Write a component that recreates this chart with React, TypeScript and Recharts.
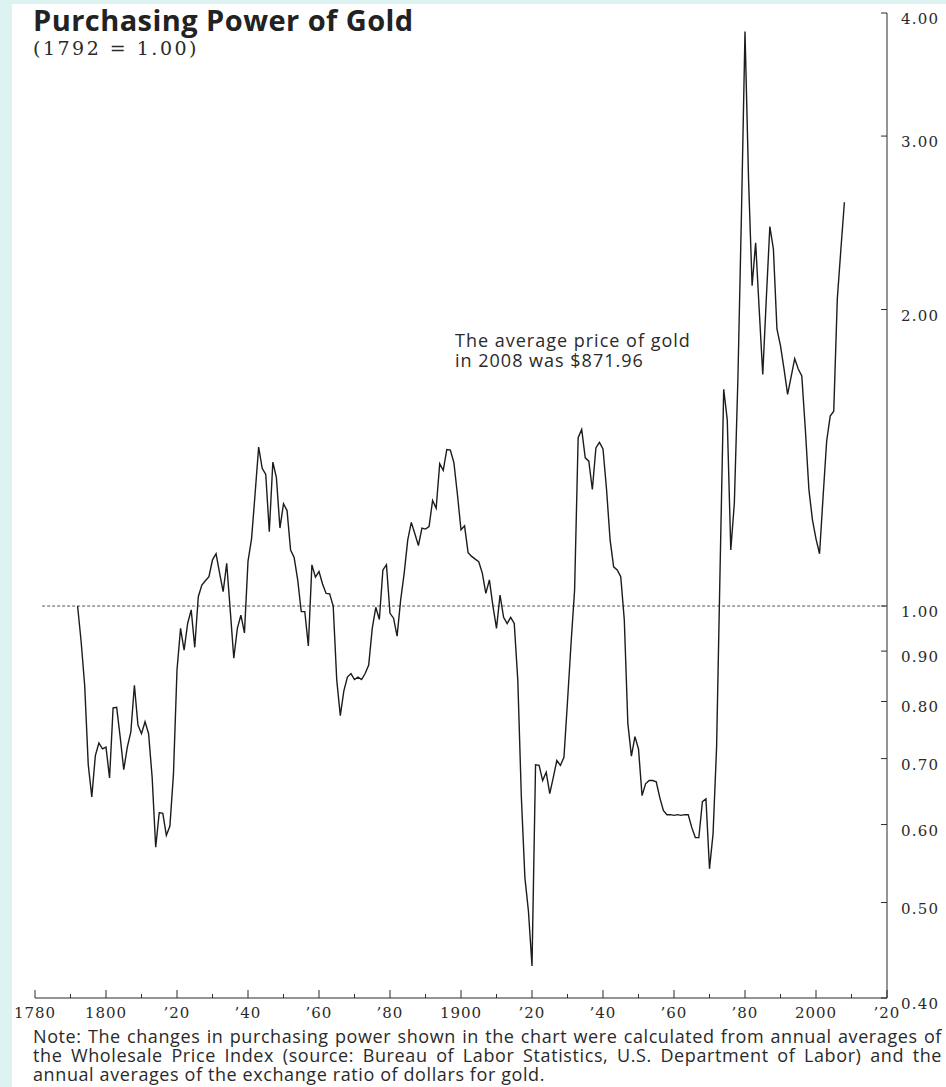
import { LineChart, Line, XAxis, YAxis, ReferenceLine } from "recharts";

// annual values, 1792 = 1.00
const firstYear = 1792;
const purchasingPower = [
  // 1792-1799
  1.0, 0.92, 0.83, 0.69, 0.64, 0.705, 0.726, 0.716,
  // 1800s
  0.719, 0.669, 0.788, 0.789, 0.736, 0.682, 0.719, 0.745, 0.831, 0.757,
  // 1810s
  0.742, 0.763, 0.742, 0.67, 0.569, 0.617, 0.616, 0.585, 0.598, 0.675,
  // 1820s
  0.861, 0.949, 0.902, 0.96, 0.991, 0.908, 1.022, 1.05, 1.061, 1.071,
  // 1830s
  1.114, 1.13, 1.08, 1.034, 1.105, 0.99, 0.885, 0.949, 0.979, 0.939,
  // 1840s
  1.11, 1.17, 1.3, 1.45, 1.38, 1.36, 1.19, 1.4, 1.35, 1.2,
  // 1850s
  1.27, 1.25, 1.14, 1.12, 1.063, 0.987, 0.987, 0.911, 1.101, 1.07,
  // 1860s
  1.084, 1.053, 1.03, 1.029, 1.0, 0.841, 0.774, 0.82, 0.847, 0.854,
  // 1870s
  0.842, 0.847, 0.842, 0.854, 0.871, 0.949, 0.997, 0.969, 1.088, 1.101,
  // 1880s
  0.983, 0.972, 0.932, 1.014, 1.08, 1.167, 1.216, 1.184, 1.152, 1.2,
  // 1890s
  1.197, 1.204, 1.28, 1.257, 1.395, 1.373, 1.442, 1.44, 1.398, 1.297,
  // 1900s
  1.195, 1.206, 1.133, 1.123, 1.116, 1.109, 1.08, 1.03, 1.063, 1.0,
  // 1910s
  0.949, 1.026, 0.974, 0.96, 0.974, 0.96, 0.841, 0.64, 0.53, 0.49,
  // 1920s
  0.431, 0.69, 0.689, 0.665, 0.678, 0.645, 0.67, 0.697, 0.689, 0.702,
  // 1930s
  0.8, 0.916, 1.038, 1.482, 1.511, 1.414, 1.403, 1.313, 1.447, 1.466,
  // 1940s
  1.444, 1.313, 1.167, 1.096, 1.088, 1.071, 0.968, 0.76, 0.704, 0.737,
  // 1950s
  0.716, 0.642, 0.66, 0.665, 0.665, 0.663, 0.639, 0.62, 0.614, 0.614,
  // 1960s
  0.613, 0.614, 0.613, 0.614, 0.614, 0.596, 0.582, 0.582, 0.633, 0.637,
  // 1970s
  0.541, 0.587, 0.719, 1.1, 1.66, 1.546, 1.14, 1.272, 1.7, 2.5,
  // 1980s
  3.83, 2.71, 2.114, 2.338, 2.0, 1.718, 2.05, 2.428, 2.303, 1.911,
  // 1990s
  1.837, 1.74, 1.64, 1.71, 1.783, 1.74, 1.712, 1.511, 1.313, 1.223,
  // 2000-2008
  1.17, 1.13, 1.292, 1.47, 1.559, 1.577, 2.05, 2.3, 2.57,
];

const xTicks = [
  1780, 1790, 1800, 1810, 1820, 1830, 1840, 1850, 1860, 1870, 1880, 1890, 1900,
  1910, 1920, 1930, 1940, 1950, 1960, 1970, 1980, 1990, 2000, 2010, 2020,
];
const xLabels: Record<number, string> = {
  1780: "1780",
  1800: "1800",
  1820: "’20",
  1840: "’40",
  1860: "’60",
  1880: "’80",
  1900: "1900",
  1920: "’20",
  1940: "’40",
  1960: "’60",
  1980: "’80",
  2000: "2000",
  2020: "’20",
};
const yTicks = [0.4, 0.5, 0.6, 0.7, 0.8, 0.9, 1, 2, 3, 4];

const title = "Purchasing Power of Gold";
const subtitle = "(1792 = 1.00)";
const annotation = ["The average price of gold", "in 2008 was $871.96"];
const noteLines = [
  "Note:  The changes in purchasing power shown in the chart were calculated from annual averages of",
  "the Wholesale Price Index (source: Bureau of Labor Statistics, U.S. Department of Labor) and the",
  "annual averages of the exchange ratio of dollars for gold.",
];

const data = purchasingPower.map((v, i) => ({ year: firstYear + i, v }));

const ink = "#2a2a2a";
const tickFont = "'DejaVu Serif', serif";
const textFont = "'Open Sans', sans-serif";

function XTick(props: any) {
  const { x, y, payload } = props;
  const label = xLabels[payload.value];
  return (
    <g>
      <line x1={x} x2={x} y1={y} y2={y - (label ? 8 : 4)} stroke={ink} strokeWidth={1} />
      {label && (
        <text
          x={x}
          y={y + 20}
          textAnchor="middle"
          fontFamily={tickFont}
          fontSize={15}
          letterSpacing={1}
          fill={ink}
        >
          {label}
        </text>
      )}
    </g>
  );
}

function YTick(props: any) {
  const { x, y, payload } = props;
  return (
    <g>
      <line x1={x} x2={x - 6} y1={y} y2={y} stroke={ink} strokeWidth={1} />
      <text
        x={x + 14}
        y={y + 11}
        textAnchor="start"
        fontFamily={tickFont}
        fontSize={15}
        letterSpacing={1.2}
        fill={ink}
      >
        {payload.value.toFixed(2)}
      </text>
    </g>
  );
}

export default function App() {
  return (
    <div
      style={{
        position: "absolute",
        left: 0,
        top: 0,
        width: 946,
        height: 1087,
        background: "#dcf3f1",
        overflow: "hidden",
      }}
    >
      <div style={{ position: "absolute", left: 12, top: 4, right: 0, bottom: 0, background: "#fff" }} />

      <div style={{ position: "absolute", left: 0, top: 0 }}>
        <LineChart
          width={946}
          height={1087}
          data={data}
          margin={{ top: 13, right: 0, bottom: 59, left: 35 }}
        >
          <XAxis
            dataKey="year"
            type="number"
            domain={[1780, 2020]}
            ticks={xTicks}
            interval={0}
            height={30}
            tickSize={0}
            tickMargin={0}
            tickLine={false}
            axisLine={{ stroke: ink }}
            tick={(p: any) => <XTick {...p} />}
            allowDataOverflow
          />
          <YAxis
            orientation="right"
            scale="log"
            domain={[0.4, 4]}
            ticks={yTicks}
            interval={0}
            width={59}
            tickSize={0}
            tickMargin={0}
            tickLine={false}
            axisLine={{ stroke: ink }}
            tick={(p: any) => <YTick {...p} />}
            allowDataOverflow
          />
          <ReferenceLine
            segment={[
              { x: 1782, y: 1 },
              { x: 2020, y: 1 },
            ]}
            stroke="#555"
            strokeDasharray="3 2"
          />
          <Line
            type="linear"
            dataKey="v"
            stroke="#1c1c1c"
            strokeWidth={1.4}
            dot={false}
            isAnimationActive={false}
          />
        </LineChart>
      </div>

      <div
        style={{
          position: "absolute",
          left: 33,
          top: 4,
          fontFamily: textFont,
          fontWeight: 700,
          fontSize: 29,
          letterSpacing: 0.45,
          lineHeight: "32px",
          color: "#222",
          whiteSpace: "nowrap",
        }}
      >
        {title}
      </div>
      <div
        style={{
          position: "absolute",
          left: 33,
          top: 37,
          fontFamily: tickFont,
          fontSize: 19,
          letterSpacing: 2.5,
          lineHeight: "22px",
          color: ink,
          whiteSpace: "pre",
        }}
      >
        {subtitle}
      </div>

      <div
        style={{
          position: "absolute",
          left: 455,
          top: 330,
          fontFamily: textFont,
          fontSize: 18,
          letterSpacing: 1,
          lineHeight: "20px",
          color: ink,
          whiteSpace: "nowrap",
        }}
      >
        {annotation.map((t) => (
          <div key={t}>{t}</div>
        ))}
      </div>

      <div
        style={{
          position: "absolute",
          left: 33,
          top: 1027,
          width: 909,
          fontFamily: textFont,
          fontSize: 18,
          letterSpacing: 0.6,
          lineHeight: "19px",
          color: ink,
          whiteSpace: "pre",
        }}
      >
        {noteLines.map((t, i) => (
          <div
            key={t}
            style={{
              whiteSpace: i < 2 ? "normal" : "pre",
              textAlign: i < 2 ? "justify" : "left",
              textAlignLast: i < 2 ? "justify" : "left",
            }}
          >
            {t}
          </div>
        ))}
      </div>
    </div>
  );
}
